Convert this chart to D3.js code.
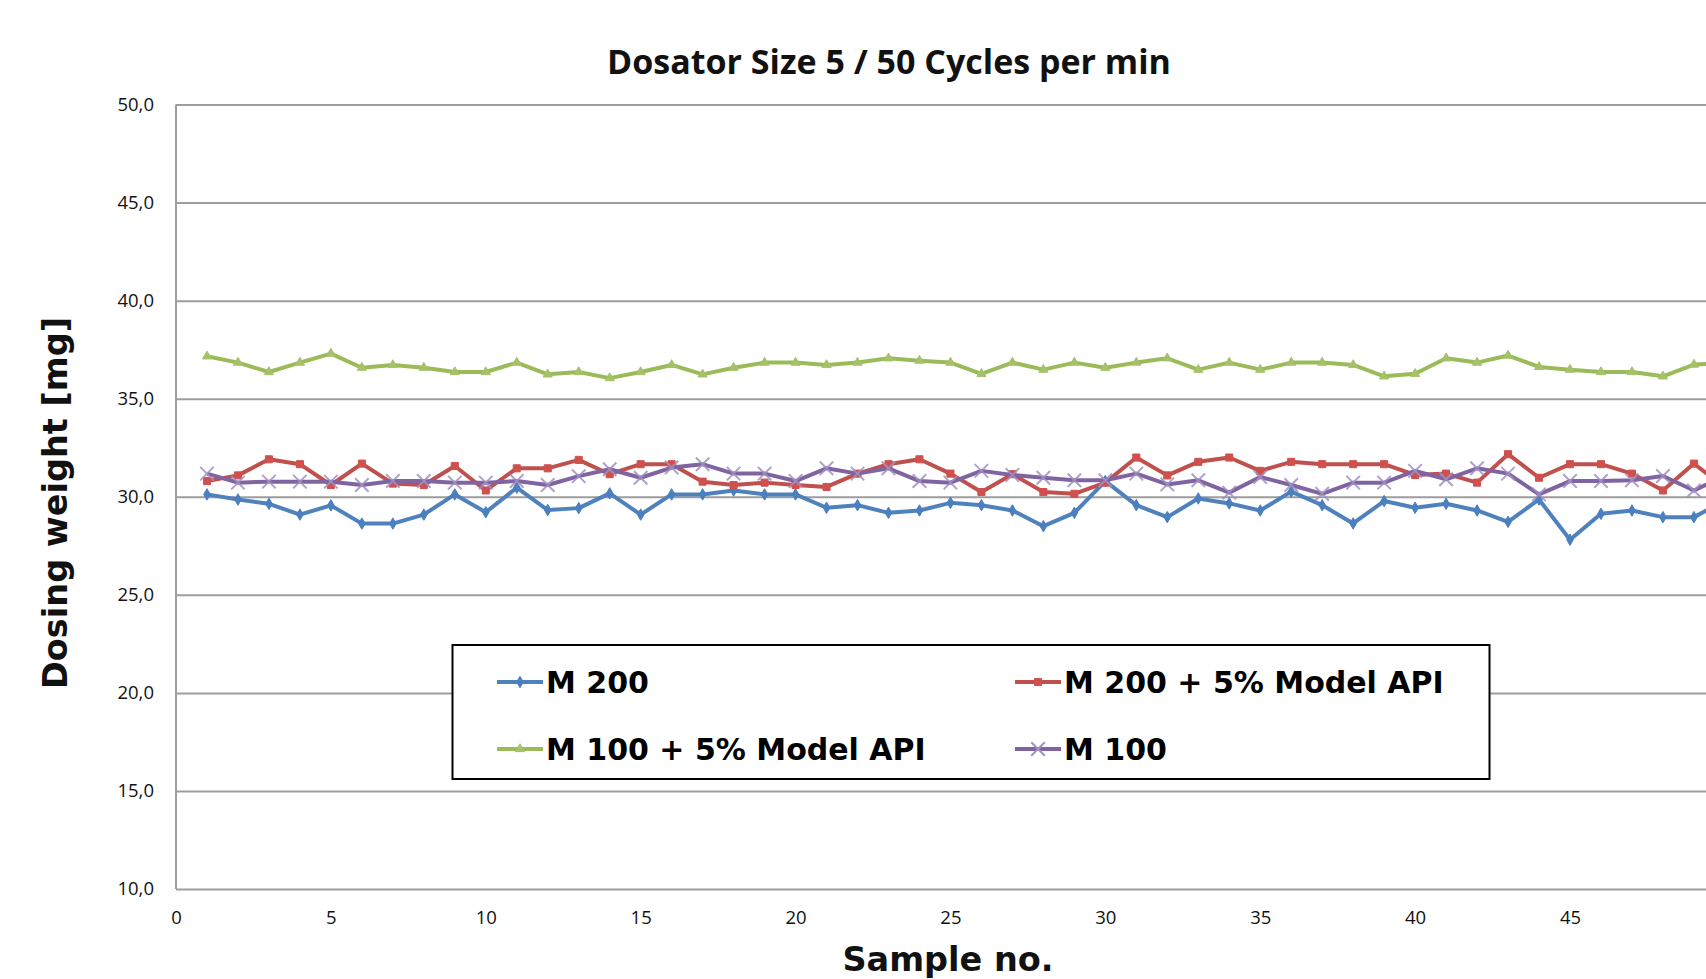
<!DOCTYPE html>
<html>
<head>
<meta charset="utf-8">
<script src="https://cdn.jsdelivr.net/npm/d3@7"></script>
<style>
body { margin: 0; background: #fff; }
svg { display: block; }
</style>
</head>
<body>
<svg id="chart"></svg>
<script>
// sample numbers 1..50 (the last one is cut off at the right edge)
const samples = d3.range(1, 51);

const m200 = [30.12, 29.86, 29.64, 29.09, 29.56, 28.63, 28.63, 29.09, 30.12, 29.21,
    30.46, 29.32, 29.42, 30.17, 29.09, 30.12, 30.12, 30.32, 30.12, 30.12,
    29.44, 29.57, 29.18, 29.30, 29.69, 29.57, 29.30, 28.50, 29.18, 30.80,
    29.57, 28.96, 29.91, 29.66, 29.30, 30.26, 29.57, 28.64, 29.78, 29.44,
    29.64, 29.30, 28.72, 29.86, 27.81, 29.13, 29.30, 28.96, 28.96, 29.78];

const m200api = [30.80, 31.09, 31.91, 31.66, 30.60, 31.69, 30.67, 30.60, 31.57, 30.32,
    31.45, 31.45, 31.88, 31.15, 31.66, 31.66, 30.77, 30.60, 30.72, 30.60,
    30.50, 31.18, 31.66, 31.91, 31.18, 30.24, 31.15, 30.24, 30.15, 30.72,
    32.00, 31.09, 31.78, 32.00, 31.32, 31.78, 31.66, 31.66, 31.66, 31.11,
    31.18, 30.72, 32.17, 30.97, 31.66, 31.66, 31.18, 30.32, 31.69, 30.46];

const m100api = [37.16, 36.84, 36.36, 36.84, 37.30, 36.58, 36.72, 36.58, 36.36, 36.36,
    36.84, 36.24, 36.36, 36.05, 36.36, 36.72, 36.24, 36.58, 36.84, 36.84,
    36.72, 36.84, 37.06, 36.94, 36.84, 36.27, 36.84, 36.48, 36.84, 36.58,
    36.84, 37.06, 36.48, 36.84, 36.48, 36.84, 36.84, 36.72, 36.14, 36.27,
    37.06, 36.84, 37.20, 36.62, 36.48, 36.36, 36.36, 36.14, 36.74, 36.80];

const m100 = [31.18, 30.72, 30.77, 30.77, 30.77, 30.60, 30.80, 30.80, 30.72, 30.72,
    30.80, 30.60, 31.05, 31.40, 30.97, 31.49, 31.66, 31.18, 31.18, 30.80,
    31.45, 31.18, 31.45, 30.80, 30.72, 31.32, 31.11, 30.97, 30.84, 30.84,
    31.18, 30.63, 30.84, 30.21, 31.01, 30.60, 30.15, 30.72, 30.72, 31.32,
    30.89, 31.45, 31.18, 30.12, 30.80, 30.80, 30.84, 31.06, 30.32, 31.06];

const seriesNames = ["M 200", "M 200 + 5% Model API", "M 100 + 5% Model API", "M 100"];
const seriesValues = [m200, m200api, m100api, m100];
const yTicks = [10, 15, 20, 25, 30, 35, 40, 45, 50];
const xTicks = [0, 5, 10, 15, 20, 25, 30, 35, 40, 45];

const colors = ["#4f81bd", "#c0504d", "#9bbb59", "#8064a2"];
const markerColors = ["#4a7fc0", "#d0504d", "#a5c26a", "#a091c2"];
const markers = [d3.symbolDiamond, d3.symbolSquare, d3.symbolTriangle, d3.symbolX];
const markerSizes = [38, 50, 36, 120];

const width = 1706, height = 979;
const svg = d3.select("#chart").attr("width", width).attr("height", height);

const x = d3.scaleLinear().domain([0, 45]).range([176, 1570]);
const y = d3.scaleLinear().domain([10, 50]).range([889, 104.5]);

const commaFmt = d3.formatLocale({ decimal: ",", thousands: ".", grouping: [3], currency: ["", ""] }).format(".1f");

// gridlines + y labels
let yAxis = svg.append("g")
    .attr("transform", `translate(${x(0)},0)`)
    .call(d3.axisLeft(y).tickValues(yTicks).tickSize(-(width - x(0))).tickPadding(22).tickFormat(commaFmt));
yAxis.select(".domain").remove();
yAxis.selectAll(".tick line").attr("stroke", "#9d9d9d").attr("stroke-width", 2);
yAxis.selectAll(".tick text")
    .style("font-family", "'Open Sans', sans-serif")
    .style("font-size", "18.5px")
    .attr("fill", "#111");

// left axis line
svg.append("line")
    .attr("x1", x(0)).attr("x2", x(0))
    .attr("y1", y(50)).attr("y2", y(10))
    .attr("stroke", "#9d9d9d").attr("stroke-width", 2);

// x labels
let xAxis = svg.append("g")
    .attr("transform", `translate(0,${y(10)})`)
    .call(d3.axisBottom(x).tickValues(xTicks).tickSize(0).tickPadding(22));
xAxis.select(".domain").remove();
xAxis.selectAll(".tick text")
    .style("font-family", "'Open Sans', sans-serif")
    .style("font-size", "18.5px")
    .attr("fill", "#111");

// series
let line = d3.line()
    .x((d, i) => x(samples[i]))
    .y(d => y(d));

seriesValues.forEach((vals, k) => {
    svg.append("path")
        .datum(vals)
        .attr("fill", "none")
        .attr("stroke", colors[k])
        .attr("stroke-width", 4)
        .attr("stroke-linejoin", "round")
        .attr("d", line);

    let sym = d3.symbol().type(markers[k]).size(markerSizes[k]);
    svg.append("g")
        .selectAll("path")
        .data(vals)
        .enter().append("path")
        .attr("transform", (d, i) => `translate(${x(samples[i])},${y(d)})`)
        .attr("d", sym)
        .attr("fill", k == 3 ? "none" : markerColors[k])
        .attr("stroke", markerColors[k])
        .attr("stroke-width", k == 3 ? 2 : 1)
        .attr("opacity", k == 3 ? 0.85 : 1);
});

// title
svg.append("text")
    .attr("x", 889).attr("y", 74)
    .attr("text-anchor", "middle")
    .style("font-family", "'Open Sans', sans-serif")
    .style("font-weight", "bold")
    .style("font-size", "34px")
    .attr("fill", "#111")
    .text("Dosator Size 5 / 50 Cycles per min");

// axis titles
svg.append("text")
    .attr("transform", "translate(67,503) rotate(-90)")
    .attr("text-anchor", "middle")
    .style("font-family", "'DejaVu Sans', sans-serif")
    .style("font-weight", "bold")
    .style("font-size", "33.5px")
    .attr("fill", "#111")
    .text("Dosing weight [mg]");

svg.append("text")
    .attr("x", 948).attr("y", 971)
    .attr("text-anchor", "middle")
    .style("font-family", "'DejaVu Sans', sans-serif")
    .style("font-weight", "bold")
    .style("font-size", "33.5px")
    .attr("fill", "#111")
    .text("Sample no.");

// legend
let legend = svg.append("g");
legend.append("rect")
    .attr("x", 452.5).attr("y", 645)
    .attr("width", 1037).attr("height", 134)
    .attr("fill", "#fff")
    .attr("stroke", "#000")
    .attr("stroke-width", 2);

let legendPos = [[497, 682], [1015, 682], [497, 749], [1015, 749]];
seriesNames.forEach((name, k) => {
    let [lx, ly] = legendPos[k];
    legend.append("line")
        .attr("x1", lx).attr("x2", lx + 46)
        .attr("y1", ly).attr("y2", ly)
        .attr("stroke", colors[k]).attr("stroke-width", 4);
    legend.append("path")
        .attr("transform", `translate(${lx + 23},${ly})`)
        .attr("d", d3.symbol().type(markers[k]).size(markerSizes[k]))
        .attr("fill", k == 3 ? "none" : markerColors[k])
        .attr("stroke", markerColors[k])
        .attr("stroke-width", k == 3 ? 2 : 1);
    legend.append("text")
        .attr("x", lx + 49).attr("y", ly + 11)
        .style("font-family", "'DejaVu Sans', sans-serif")
        .style("font-weight", "bold")
        .style("font-size", "30px")
        .attr("fill", "#000")
        .text(name);
});
</script>
</body>
</html>
